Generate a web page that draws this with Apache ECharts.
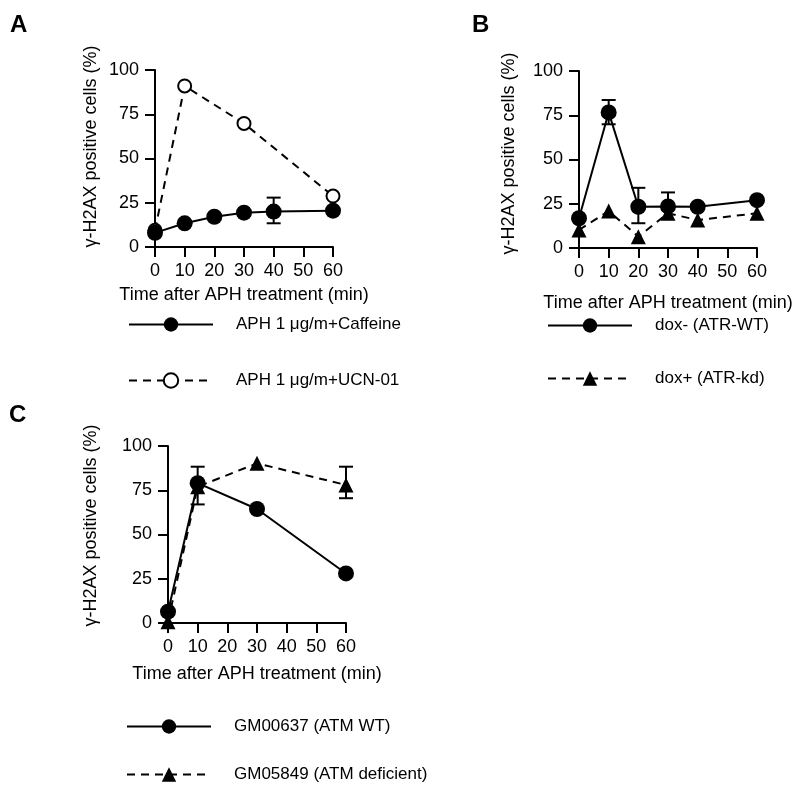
<!DOCTYPE html>
<html>
<head>
<meta charset="utf-8">
<script src="https://cdn.jsdelivr.net/npm/echarts@6/dist/echarts.min.js"></script>
<style>
  html, body { margin: 0; padding: 0; background: #fff; }
  #chart { width: 795px; height: 786px; }
</style>
</head>
<body>
<div id="chart"></div>
<script>
var FONT = 'Liberation Sans, Arial, Helvetica, sans-serif';

// x ticks (min)
var timeTicks = [0, 10, 20, 30, 40, 50, 60];

// panel A
var aNames = ['APH 1 μg/m+Caffeine', 'APH 1 μg/m+UCN-01'];
var aCaffeine = [[0, 8], [10, 13.4], [20, 17.1], [30, 19.4], [40, 20], [60, 20.5]];
var aUcn = [[0, 9.5], [10, 91], [30, 69.8], [60, 28.8]];
var aCaffeineErr = [[40, 13.4, 27.9]];

// panel B
var bNames = ['dox- (ATR-WT)', 'dox+ (ATR-kd)'];
var bWt = [[0, 16.8], [10, 76.6], [20, 23.3], [30, 23.5], [40, 23.3], [60, 27]];
var bKd = [[0, 10.2], [10, 20.9], [20, 6.4], [30, 19.6], [40, 15.8], [60, 19.6]];
var bWtErr = [[10, 69.9, 83.6], [20, 14, 34], [30, 23.5, 31.4]];

// panel C
var cNames = ['GM00637 (ATM WT)', 'GM05849 (ATM deficient)'];
var cWt = [[0, 6.4], [10, 79], [30, 64.4], [60, 28]];
var cDef = [[0, 0.7], [10, 77], [30, 90.2], [60, 78]];
var cDefErr = [[10, 67, 88.3], [60, 70.5, 88.3]];

var chart = echarts.init(document.getElementById('chart'));

function xAxisFor(idx, gap) {
  return {
    type: 'value', gridIndex: idx, min: 0, max: 60, interval: 10,
    name: 'Time after APH treatment (min)', nameLocation: 'middle', nameGap: gap,
    nameTextStyle: { color: '#000', fontSize: 18, fontFamily: FONT },
    axisLine: { lineStyle: { color: '#000', width: 2 } },
    axisTick: { length: 10, lineStyle: { color: '#000', width: 2 } },
    axisLabel: { color: '#000', fontSize: 18, fontFamily: FONT, margin: 15,
      customValues: timeTicks },
    splitLine: { show: false }
  };
}

function yAxisFor(idx, gap, shift) {
  return {
    type: 'value', gridIndex: idx, min: 0, max: 100, interval: 25,
    name: 'γ-H2AX positive cells (%)', nameLocation: 'middle', nameGap: gap,
    nameTextStyle: { color: '#000', fontSize: 18, fontFamily: FONT, padding: [0, 0, 0, shift] },
    axisLine: { show: true, lineStyle: { color: '#000', width: 2 } },
    axisTick: { show: true, length: 10, lineStyle: { color: '#000', width: 2 } },
    axisLabel: { color: '#000', fontSize: 18, fontFamily: FONT, margin: 16 },
    splitLine: { show: false }
  };
}

// error bar drawn from [x, low, high]
function errBar(params, api) {
  var x = api.value(0);
  var lo = api.coord([x, api.value(1)]);
  var hi = api.coord([x, api.value(2)]);
  var w = 7;
  var st = { stroke: '#000', lineWidth: 2 };
  return {
    type: 'group',
    children: [
      { type: 'line', shape: { x1: lo[0], y1: lo[1], x2: hi[0], y2: hi[1] }, style: st },
      { type: 'line', shape: { x1: lo[0] - w, y1: lo[1], x2: lo[0] + w, y2: lo[1] }, style: st },
      { type: 'line', shape: { x1: hi[0] - w, y1: hi[1], x2: hi[0] + w, y2: hi[1] }, style: st }
    ]
  };
}

function errSeries(idx, data) {
  return {
    type: 'custom', xAxisIndex: idx, yAxisIndex: idx, renderItem: errBar,
    encode: { x: 0, y: [1, 2] }, data: data, clip: false, silent: true, z: 1
  };
}

function lineSeries(idx, name, data, opt) {
  return {
    type: 'line', name: name, xAxisIndex: idx, yAxisIndex: idx, data: data,
    symbol: opt.symbol, symbolSize: opt.size, clip: false, z: opt.z,
    lineStyle: { color: '#000', width: 2, type: opt.dashed ? [8, 6] : 'solid' },
    itemStyle: { color: opt.open ? '#fff' : '#000', borderColor: '#000', borderWidth: opt.open ? 2 : 0, opacity: 1 },
    emphasis: { disabled: true }
  };
}

function legendFor(left, top, gap, names) {
  return {
    left: left, top: top, orient: 'vertical', padding: 0,
    itemWidth: 84, itemHeight: 18, itemGap: gap,
    data: names, selectedMode: false,
    textStyle: { color: '#000', fontSize: 17, fontFamily: FONT, padding: [0, 0, 0, 18] }
  };
}

var option = {
  backgroundColor: '#fff',
  animation: false,
  grid: [
    { left: 155, top: 70, width: 178, height: 177 },
    { left: 579, top: 71, width: 178, height: 177 },
    { left: 168, top: 446, width: 178, height: 177 }
  ],
  xAxis: [xAxisFor(0, 39), xAxisFor(1, 46), xAxisFor(2, 42)],
  yAxis: [yAxisFor(0, 55, 24), yAxisFor(1, 61, 12), yAxisFor(2, 68, 18)],
  legend: [
    legendFor(128, 316, 39, aNames),
    legendFor(547, 317, 36, bNames),
    legendFor(126, 718, 31, cNames)
  ],
  graphic: [
    { type: 'text', left: 10, top: 13, style: { text: 'A', font: 'bold 24px ' + FONT, fill: '#000' } },
    { type: 'text', left: 472, top: 13, style: { text: 'B', font: 'bold 24px ' + FONT, fill: '#000' } },
    { type: 'text', left: 9, top: 403, style: { text: 'C', font: 'bold 24px ' + FONT, fill: '#000' } }
  ],
  series: [
    errSeries(0, aCaffeineErr),
    lineSeries(0, aNames[1], aUcn, { symbol: 'circle', size: 13, dashed: true, open: true, z: 2 }),
    lineSeries(0, aNames[0], aCaffeine, { symbol: 'circle', size: 16, z: 3 }),

    errSeries(1, bWtErr),
    lineSeries(1, bNames[1], bKd, { symbol: 'triangle', size: 15, dashed: true, z: 2 }),
    lineSeries(1, bNames[0], bWt, { symbol: 'circle', size: 16, z: 3 }),

    errSeries(2, cDefErr),
    lineSeries(2, cNames[1], cDef, { symbol: 'triangle', size: 15, dashed: true, z: 2 }),
    lineSeries(2, cNames[0], cWt, { symbol: 'circle', size: 16, z: 3 })
  ]
};

chart.setOption(option);
</script>
</body>
</html>
